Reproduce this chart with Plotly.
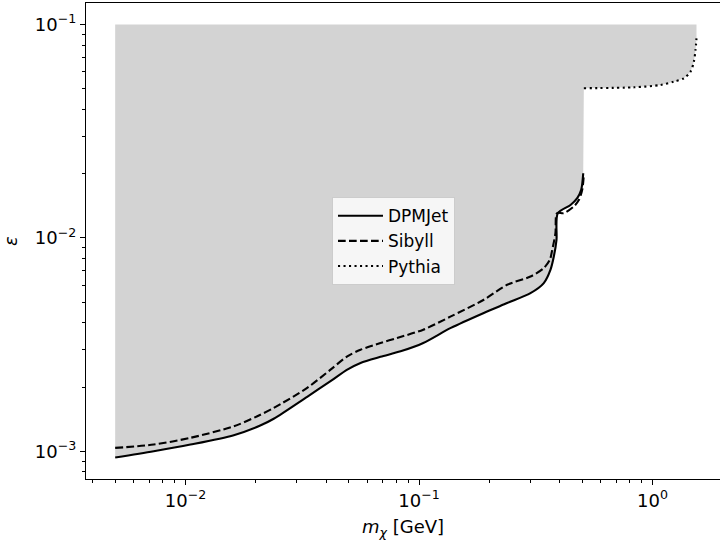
import plotly.graph_objects as go

# ---- data ----
dpm_x = [0.005, 0.00731, 0.0105, 0.0161, 0.0209, 0.02387, 0.0332, 0.0418, 0.0493, 0.0562,
         0.0684, 0.0834, 0.1043, 0.1369, 0.1895, 0.2385, 0.3002, 0.3423, 0.3658, 0.3779,
         0.388, 0.393, 0.4455, 0.476, 0.495, 0.505]
dpm_y = [9.35e-4, 1.0e-3, 1.075e-3, 1.19e-3, 1.32e-3, 1.42e-3, 1.8e-3, 2.13e-3, 2.413e-3, 2.594e-3,
         2.77e-3, 2.94e-3, 3.217e-3, 3.785e-3, 4.45e-3, 4.95e-3, 5.51e-3, 6.14e-3, 7.1e-3, 8.18e-3,
         9.8e-3, 1.306e-2, 1.427e-2, 1.536e-2, 1.68e-2, 2.01e-2]

sib_x = [0.005, 0.00731, 0.0105, 0.0161, 0.0203, 0.02387, 0.0332, 0.0418, 0.0493, 0.0562,
         0.0684, 0.0806, 0.1043, 0.1369, 0.1895, 0.2385, 0.3002, 0.3423, 0.3634, 0.372,
         0.384, 0.39, 0.417, 0.46, 0.4835, 0.5, 0.508]
sib_y = [1.037e-3, 1.075e-3, 1.156e-3, 1.309e-3, 1.459e-3, 1.596e-3, 1.982e-3, 2.413e-3, 2.786e-3, 2.99e-3,
         3.217e-3, 3.396e-3, 3.715e-3, 4.285e-3, 5.13e-3, 6.03e-3, 6.59e-3, 7.22e-3, 7.9e-3, 8.79e-3,
         1.053e-2, 1.306e-2, 1.306e-2, 1.403e-2, 1.504e-2, 1.68e-2, 1.985e-2]

pyt_x = [0.508, 0.835, 1.082, 1.234, 1.362, 1.454, 1.503, 1.528, 1.543]
pyt_y = [0.0503, 0.0508, 0.0521, 0.054, 0.056, 0.0601, 0.067, 0.076, 0.0862]

eps_top = 0.1

x_major = [0.01, 0.1, 1]
x_major_text = ["10<sup>\u22122</sup>", "10<sup>\u22121</sup>", "10<sup>0</sup>"]
y_major = [0.001, 0.01, 0.1]
y_major_text = ["10<sup>\u22123</sup>", "10<sup>\u22122</sup>", "10<sup>\u22121</sup>"]

x_minor = [m * 10.0 ** e for e in (-3, -2, -1, 0) for m in range(2, 10)]
y_minor = [m * 10.0 ** e for e in (-4, -3, -2, -1) for m in range(2, 10)]

# ---- figure ----
fig = go.Figure()

SM = 0.8
# excluded region polygon: DPMJet lower boundary, then Pythia, closed along eps_top
poly_x = dpm_x + pyt_x + [pyt_x[-1], dpm_x[0]]
poly_y = dpm_y + pyt_y + [eps_top, eps_top]
fig.add_trace(go.Scatter(x=poly_x, y=poly_y, fill="toself", fillcolor="#d3d3d3",
                         line=dict(width=0), mode="lines", showlegend=False, hoverinfo="skip"))

fig.add_trace(go.Scatter(x=dpm_x, y=dpm_y, mode="lines", name="DPMJet",
                         line=dict(color="black", width=2.1, shape="spline", smoothing=SM)))
fig.add_trace(go.Scatter(x=sib_x, y=sib_y, mode="lines", name="Sibyll",
                         line=dict(color="black", width=2.1, dash="7.7px,3.3px",
                                   shape="spline", smoothing=SM)))
fig.add_trace(go.Scatter(x=pyt_x, y=pyt_y, mode="lines", name="Pythia",
                         line=dict(color="black", width=2.1, dash="2.1px,3.4px",
                                   shape="spline", smoothing=SM)))

font = dict(family="DejaVu Sans", size=18, color="black")
lfont = dict(family="DejaVu Sans", size=17, color="black")

fig.update_layout(
    width=720, height=540,
    margin=dict(l=86, r=0, t=3, b=61),
    plot_bgcolor="white", paper_bgcolor="white",
    font=font,
    legend=dict(x=0.388, y=0.592, xanchor="left", yanchor="top",
                itemwidth=45,
                bgcolor="rgba(255,255,255,0.8)", bordercolor="#cccccc", borderwidth=1,
                font=lfont),
)

fig.update_xaxes(
    type="log", range=[-2.426, 0.289],
    showgrid=False, zeroline=False,
    showline=True, linecolor="black", linewidth=1.1, mirror=True,
    ticks="outside", ticklen=5, tickwidth=1.1, tickcolor="black",
    tickmode="array", tickvals=x_major, ticktext=x_major_text,
    tickfont=font,
    minor=dict(tickmode="array", tickvals=x_minor, ticks="outside", ticklen=3,
               tickwidth=0.9, tickcolor="black", showgrid=False),
    title=dict(text="<i>m</i><sub><i>\u03c7</i></sub> [GeV]", font=font, standoff=13),
)
fig.update_yaxes(
    type="log", range=[-3.13, -0.899],
    showgrid=False, zeroline=False,
    showline=True, linecolor="black", linewidth=1.1, mirror=False,
    ticks="outside", ticklen=5, tickwidth=1.1, tickcolor="black",
    tickmode="array", tickvals=y_major, ticktext=y_major_text,
    tickfont=font,
    minor=dict(tickmode="array", tickvals=y_minor, ticks="outside", ticklen=3,
               tickwidth=0.9, tickcolor="black", showgrid=False),
    title=dict(text="<i>\u03b5</i>", font=font, standoff=14),
)

fig.write_html("out.html")
